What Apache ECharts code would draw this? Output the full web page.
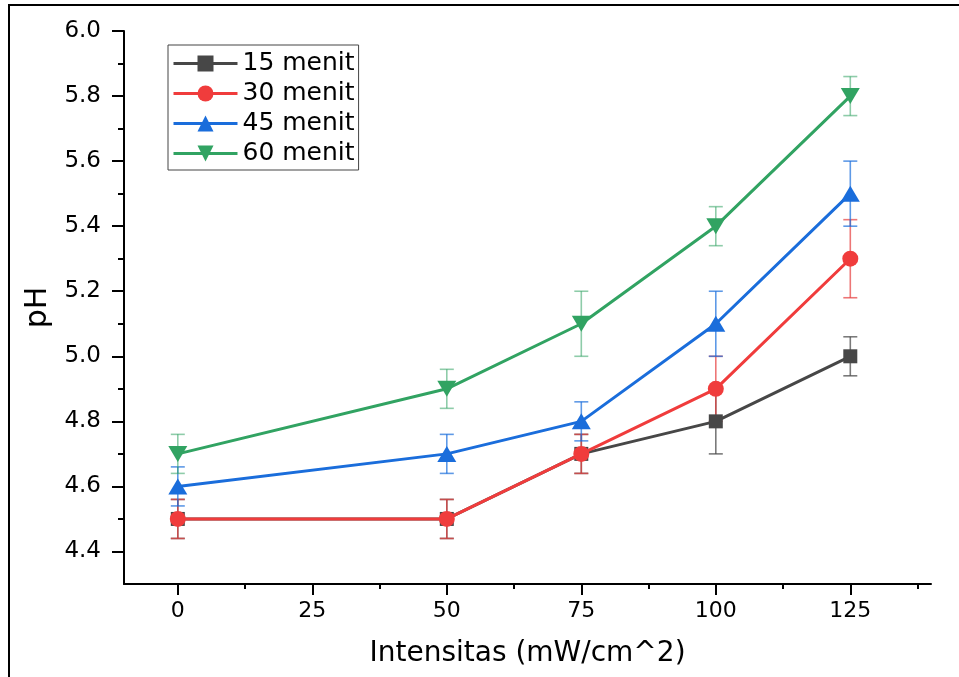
<!DOCTYPE html>
<html>
<head>
<meta charset="utf-8">
<script src="https://cdn.jsdelivr.net/npm/echarts@6/dist/echarts.min.js"></script>
<style>
html,body{margin:0;padding:0;background:#fff;}
#c{width:959px;height:677px;}
</style>
</head>
<body>
<div id="c"></div>
<script>
const intensities = [0, 50, 75, 100, 125];
const seriesNames = ['15 menit', '30 menit', '45 menit', '60 menit'];
const ph15 = [4.5, 4.5, 4.7, 4.8, 5.0];
const err15 = [0.06, 0.06, 0.06, 0.1, 0.06];
const ph30 = [4.5, 4.5, 4.7, 4.9, 5.3];
const err30 = [0.06, 0.06, 0.06, 0.1, 0.12];
const ph45 = [4.6, 4.7, 4.8, 5.1, 5.5];
const err45 = [0.06, 0.06, 0.06, 0.1, 0.1];
const ph60 = [4.7, 4.9, 5.1, 5.4, 5.8];
const err60 = [0.06, 0.06, 0.1, 0.06, 0.06];
const xTickLabels = [0, 25, 50, 75, 100, 125];
const xMinorTicks = [12.5, 37.5, 62.5, 87.5, 112.5, 137.5];
const yTickLabels = [4.4, 4.6, 4.8, 5.0, 5.2, 5.4, 5.6, 5.8, 6.0];
const yMinorTicks = [4.5, 4.7, 4.9, 5.1, 5.3, 5.5, 5.7, 5.9];

const values = [ph15, ph30, ph45, ph60];
const errors = [err15, err30, err45, err60];
const colors = ['#474747', '#f03c3c', '#1a6ddb', '#31a362'];
const errColors = ['rgba(77,77,77,0.75)', 'rgba(230,60,60,0.7)', 'rgba(26,109,219,0.7)', 'rgba(49,163,98,0.55)'];
const symbols = ['rect', 'circle', 'triangle', 'triangle'];
const symbolSizes = [14, 16, [19, 16], [19, 16]];
const symbolRotates = [0, 0, 0, 180];

const FONT = 'DejaVu Sans';
const chart = echarts.init(document.getElementById('c'), null, {renderer: 'canvas'});

const series = [];
values.forEach((vals, i) => {
  series.push({
    name: seriesNames[i] + '_err',
    type: 'custom',
    z: 1,
    silent: true,
    data: intensities.map((x, j) => [x, vals[j] - errors[i][j], vals[j] + errors[i][j]]),
    encode: {x: 0, y: [1, 2]},
    renderItem: function (params, api) {
      const lo = api.coord([api.value(0), api.value(1)]);
      const hi = api.coord([api.value(0), api.value(2)]);
      const hw = 7;
      const st = {stroke: errColors[i], lineWidth: 1.6};
      return {
        type: 'group',
        children: [
          {type: 'line', shape: {x1: lo[0], y1: lo[1], x2: hi[0], y2: hi[1]}, style: st},
          {type: 'line', shape: {x1: lo[0] - hw, y1: lo[1], x2: lo[0] + hw, y2: lo[1]}, style: st},
          {type: 'line', shape: {x1: hi[0] - hw, y1: hi[1], x2: hi[0] + hw, y2: hi[1]}, style: st}
        ]
      };
    }
  });
});
values.forEach((vals, i) => {
  series.push({
    name: seriesNames[i],
    type: 'line',
    z: 3 + i,
    data: intensities.map((x, j) => [x, vals[j]]),
    symbol: symbols[i],
    symbolSize: symbolSizes[i],
    symbolRotate: symbolRotates[i],
    showAllSymbol: true,
    lineStyle: {color: colors[i], width: 3},
    itemStyle: {color: colors[i], borderWidth: 0},
    emphasis: {disabled: true},
    animation: false
  });
});

const option = {
  animation: false,
  backgroundColor: '#fff',
  graphic: [{
    type: 'rect',
    shape: {x: 9, y: 5, width: 1000, height: 720},
    style: {fill: 'none', stroke: '#000', lineWidth: 2},
    silent: true,
    z: 0
  }],
  grid: {left: 124, right: 28, top: 31, bottom: 93, containLabel: false},
  legend: {
    data: seriesNames,
    left: 168,
    top: 45,
    orient: 'vertical',
    itemWidth: 64,
    itemHeight: 20,
    itemGap: 5,
    padding: [6, 4, 4, 4],
    borderColor: '#444',
    borderWidth: 1,
    backgroundColor: '#fff',
    lineStyle: {width: 3},
    textStyle: {fontFamily: FONT, fontSize: 25, color: '#000'},
    selectedMode: false
  },
  xAxis: [{
    type: 'value',
    min: -10,
    max: 140,
    name: 'Intensitas (mW/cm^2)',
    nameLocation: 'middle',
    nameGap: 56,
    nameTextStyle: {fontFamily: FONT, fontSize: 28, color: '#000'},
    axisLine: {onZero: false, lineStyle: {color: '#000', width: 2}},
    axisTick: {show: true, length: 11, lineStyle: {color: '#000', width: 2}, customValues: xTickLabels},
    axisLabel: {fontFamily: FONT, fontSize: 22, color: '#000', margin: 16, customValues: xTickLabels},
    splitLine: {show: false}
  }, {
    type: 'value',
    position: 'bottom',
    min: -10,
    max: 140,
    axisLine: {show: false, onZero: false},
    axisTick: {show: true, length: 5, lineStyle: {color: '#000', width: 2}, customValues: xMinorTicks},
    axisLabel: {show: false},
    splitLine: {show: false}
  }],
  yAxis: [{
    type: 'value',
    min: 4.3,
    max: 6.0,
    name: 'pH',
    nameLocation: 'middle',
    nameGap: 68,
    nameTextStyle: {fontFamily: FONT, fontSize: 30, color: '#000'},
    axisLine: {show: true, onZero: false, lineStyle: {color: '#000', width: 2}},
    axisTick: {show: true, length: 12, lineStyle: {color: '#000', width: 2}, customValues: yTickLabels},
    axisLabel: {fontFamily: FONT, fontSize: 23, color: '#000', margin: 23, customValues: yTickLabels,
      formatter: v => v.toFixed(1)},
    splitLine: {show: false}
  }, {
    type: 'value',
    position: 'left',
    min: 4.3,
    max: 6.0,
    axisLine: {show: false, onZero: false},
    axisTick: {show: true, length: 6, lineStyle: {color: '#000', width: 2}, customValues: yMinorTicks},
    axisLabel: {show: false},
    splitLine: {show: false}
  }],
  series: series
};
chart.setOption(option);
</script>
</body>
</html>
